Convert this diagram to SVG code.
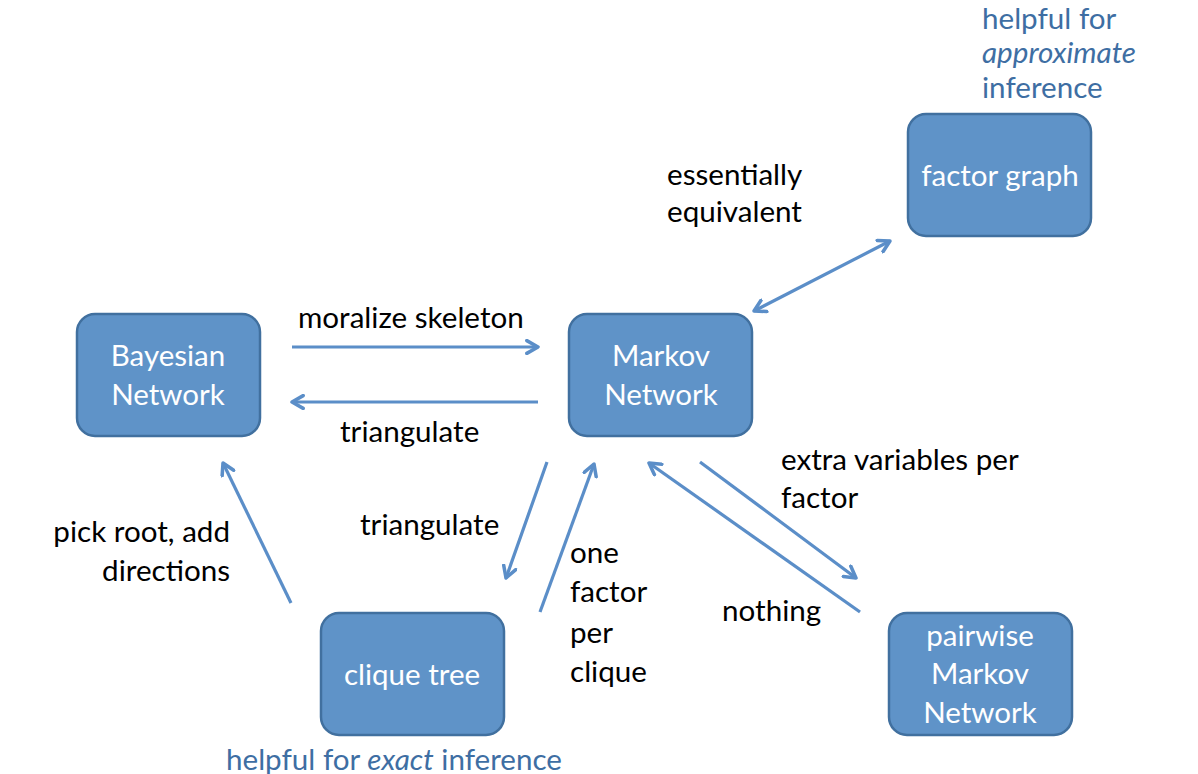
<svg xmlns="http://www.w3.org/2000/svg" width="1198" height="774" viewBox="0 0 1198 774">
<defs>
<marker id="ah" viewBox="0 0 10 10" refX="8" refY="5" markerWidth="5" markerHeight="5" orient="auto-start-reverse" markerUnits="strokeWidth">
<path d="M1,1 L8,5 L1,9" fill="none" stroke="#5b8ec8" stroke-width="2.2" stroke-linecap="round" stroke-linejoin="round"/>
</marker>
<style>
.node rect{fill:#5f93c8;stroke:#41709f;stroke-width:2.5}
.nt{font-family:Lato,"Open Sans",sans-serif;font-size:29.5px;fill:#ffffff;text-anchor:middle}
.lb{font-family:Lato,"Open Sans",sans-serif;font-size:29.6px;fill:#000000}
.bl{font-family:Lato,"Open Sans",sans-serif;font-size:29.6px;fill:#3e6ea3}
.cn line{stroke:#5b8ec8;stroke-width:3.2;marker-end:url(#ah)}
</style>
</defs>
<rect width="1198" height="774" fill="#ffffff"/>
<g id="bayesian" class="node">
<rect x="77" y="314" width="183" height="122" rx="18"/>
<text class="nt" x="168" y="366">Bayesian</text>
<text class="nt" x="168" y="405">Network</text>
</g>
<g id="markov" class="node">
<rect x="569" y="314" width="183" height="122" rx="18"/>
<text class="nt" x="661" y="366">Markov</text>
<text class="nt" x="661" y="405">Network</text>
</g>
<g id="factorgraph" class="node">
<rect x="908" y="114" width="183" height="122" rx="18"/>
<text class="nt" x="1000" y="186">factor graph</text>
</g>
<g id="cliquetree" class="node">
<rect x="321" y="613" width="183" height="122" rx="18"/>
<text class="nt" x="412" y="685">clique tree</text>
</g>
<g id="pairwise" class="node">
<rect x="889" y="613" width="183" height="122" rx="18"/>
<text class="nt" x="980" y="646">pairwise</text>
<text class="nt" x="980" y="684">Markov</text>
<text class="nt" x="980" y="723">Network</text>
</g>
<g id="connectors" class="cn">
<line x1="292" y1="347" x2="538" y2="347"/>
<line x1="538" y1="402" x2="292" y2="402"/>
<line x1="754" y1="311" x2="890" y2="241" marker-start="url(#ah)"/>
<line x1="547" y1="462" x2="506" y2="578"/>
<line x1="540" y1="612" x2="594" y2="464"/>
<line x1="700" y1="462" x2="856" y2="578"/>
<line x1="860" y1="612" x2="649" y2="463"/>
<line x1="291" y1="603" x2="223" y2="463"/>
</g>
<g id="labels">
<text class="lb" x="667" y="185">essentially</text>
<text class="lb" x="667" y="222">equivalent</text>
<text class="lb" x="298" y="328">moralize skeleton</text>
<text class="lb" x="340" y="442">triangulate</text>
<text class="lb" x="360" y="535">triangulate</text>
<text class="lb" x="230" y="542" text-anchor="end">pick root, add</text>
<text class="lb" x="230" y="581" text-anchor="end">directions</text>
<text class="lb" x="570" y="563">one</text>
<text class="lb" x="570" y="602">factor</text>
<text class="lb" x="570" y="643">per</text>
<text class="lb" x="570" y="682">clique</text>
<text class="lb" x="781" y="470">extra variables per</text>
<text class="lb" x="781" y="508">factor</text>
<text class="lb" x="722" y="621">nothing</text>
<text class="bl" x="982" y="29">helpful for</text>
<text class="bl" x="982" y="63" font-style="italic">approximate</text>
<text class="bl" x="982" y="98">inference</text>
<text class="bl" x="226" y="770">helpful for <tspan font-style="italic">exact</tspan> inference</text>
</g>
</svg>
